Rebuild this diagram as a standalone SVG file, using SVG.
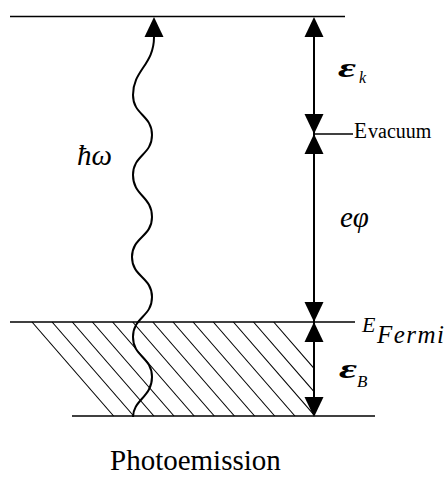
<svg xmlns="http://www.w3.org/2000/svg" width="446" height="479" viewBox="0 0 446 479">
<style>
.lvl{stroke:#000;stroke-width:1.6;fill:none}
.hatch{stroke:#000;stroke-width:1.1;fill:none}
.conn{stroke:#000;stroke-width:2;fill:none}
.head{fill:#000;stroke:none}
.t{font-family:"Liberation Serif","Times New Roman",serif;fill:#000}
.i{font-style:italic}
</style>
<defs>
<polygon id="up" points="0,0 -9.5,20 9.5,20"/>
<polygon id="down" points="0,0 -9.5,-20 9.5,-20"/>
</defs>
<g id="levels">
<line class="lvl" x1="10" y1="16.5" x2="345" y2="16.5"/>
<line class="lvl" x1="10" y1="322" x2="355" y2="322"/>
<line class="lvl" x1="72" y1="416" x2="375" y2="416"/>
<line class="lvl" x1="314" y1="134" x2="353" y2="134"/>
</g>
<g id="filled-states">
<line class="hatch" x1="32" y1="322" x2="113.6" y2="416"/>
<line class="hatch" x1="52.1" y1="322" x2="133.7" y2="416"/>
<line class="hatch" x1="72.3" y1="322" x2="153.9" y2="416"/>
<line class="hatch" x1="92.4" y1="322" x2="174" y2="416"/>
<line class="hatch" x1="112.6" y1="322" x2="194.2" y2="416"/>
<line class="hatch" x1="132.7" y1="322" x2="214.3" y2="416"/>
<line class="hatch" x1="152.8" y1="322" x2="234.4" y2="416"/>
<line class="hatch" x1="173" y1="322" x2="254.6" y2="416"/>
<line class="hatch" x1="193.1" y1="322" x2="274.7" y2="416"/>
<line class="hatch" x1="213.3" y1="322" x2="294.9" y2="416"/>
<line class="hatch" x1="233.4" y1="322" x2="314" y2="414.8"/>
<line class="hatch" x1="253.5" y1="322" x2="314" y2="391.7"/>
<line class="hatch" x1="273.7" y1="322" x2="314" y2="368.4"/>
</g>
<g id="connectors">
<path class="conn" d="M154,37 C154,65 133,70 133,95 C133,115 152,115 152,135 C152,155 133,155 133,175 C133,196 152,196 152,217 C152,237 132,237 132,257 C132,277 152,277 152,297 C152,317 133,317 133,337 C133,357 152,357 152,377 C152,397 133,400 133,417"/>
<use href="#up" class="head" x="154" y="17"/>
<line class="conn" x1="314" y1="30" x2="314" y2="410"/>
<use href="#up" class="head" x="314" y="17"/>
<use href="#down" class="head" x="314" y="134"/>
<use href="#up" class="head" x="314" y="134"/>
<use href="#down" class="head" x="314" y="322"/>
<use href="#up" class="head" x="314" y="322"/>
<use href="#down" class="head" x="314" y="417"/>
</g>
<g id="labels">
<text class="t i" x="77" y="165" font-size="29">ħω</text>
<text class="t i" x="338" y="77" font-size="28" font-weight="bold" textLength="18" lengthAdjust="spacingAndGlyphs">ε</text>
<text class="t i" x="359" y="83" font-size="16">k</text>
<text class="t" x="354" y="138" font-size="24" textLength="13" lengthAdjust="spacingAndGlyphs">E</text>
<text class="t" x="368" y="138" font-size="20">vacuum</text>
<text class="t i" x="340" y="227" font-size="29">eφ</text>
<text class="t i" x="362" y="332" font-size="22">E</text>
<text class="t i" x="377" y="343" font-size="25" textLength="67">Fermi</text>
<text class="t i" x="339" y="378" font-size="28" font-weight="bold" textLength="18" lengthAdjust="spacingAndGlyphs">ε</text>
<text class="t i" x="357" y="387" font-size="17">B</text>
<text class="t" x="110" y="470" font-size="29">Photoemission</text>
</g>
</svg>
